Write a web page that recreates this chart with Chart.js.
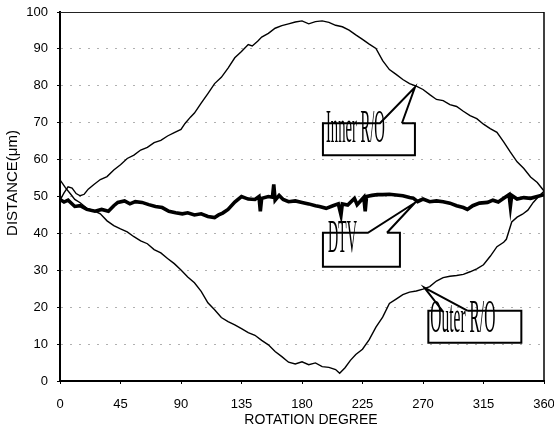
<!DOCTYPE html>
<html>
<head>
<meta charset="utf-8">
<script src="https://cdn.jsdelivr.net/npm/chart.js@4.4.0/dist/chart.umd.min.js"></script>
<style>
  html, body { margin: 0; padding: 0; background: #fff; }
</style>
</head>
<body>
<canvas id="roChart" width="554" height="430"></canvas>
<script>
const degreeTicks = [0, 45, 90, 135, 180, 225, 270, 315, 360];
const distanceTicks = [0, 10, 20, 30, 40, 50, 60, 70, 80, 90, 100];

const innerDeg = [0, 3, 6, 9, 12, 15, 18, 21, 25, 30, 35, 40, 45, 50, 55, 60, 65, 70, 75, 80, 85, 90, 93, 97,
  100, 105, 110, 115, 120, 125, 130, 135, 140, 143, 147, 150, 155, 160, 165, 170, 175, 180, 185, 190, 195,
  200, 205, 210, 215, 220, 225, 230, 235, 240, 245, 250, 255, 260, 265, 270, 275, 280, 285, 290, 295, 300,
  305, 310, 315, 320, 325, 330, 335, 340, 345, 350, 355, 360];
const innerRO = [49, 51, 52.6, 52.3, 50.8, 50.2, 50.6, 52, 53.2, 54.6, 55.4, 57.2, 58.6, 60.3, 61.2, 62.6, 63.3,
  64.6, 65.2, 66.4, 67.3, 68.2, 69.8, 71.5, 72.6, 75.3, 77.9, 80.6, 82.3, 84.8, 87.6, 89.3, 91.2, 90.8, 92.1,
  93.2, 94.2, 95.6, 96.3, 96.8, 97.3, 97.6, 96.8, 97.4, 97.6, 97.2, 96.4, 96, 95.1, 93.8, 92.6, 91.3, 90.1,
  86.8, 84.4, 83.1, 81.7, 80.6, 79.9, 79, 77.6, 76.3, 76, 74.9, 74.4, 73.1, 71.9, 71.1, 69.6, 68.4, 67.4,
  64.8, 62, 59.4, 57.6, 55.3, 53.8, 51.5];

const outerDeg = [0, 4, 8, 11, 15, 20, 25, 30, 35, 40, 45, 50, 55, 60, 65, 70, 75, 80, 85, 90, 95, 100, 105,
  110, 115, 120, 125, 130, 135, 140, 145, 150, 155, 160, 165, 170, 175, 180, 185, 190, 195, 200, 205, 208,
  212, 216, 220, 225, 230, 235, 240, 245, 250, 255, 260, 265, 270, 275, 280, 285, 290, 295, 300, 305, 310,
  315, 320, 325, 330, 332, 336, 340, 344, 348, 352, 356, 360];
const outerRO = [54.5, 52.4, 50.6, 49.2, 48.3, 46.8, 46.2, 45.3, 43.4, 42.1, 41.2, 40.4, 39.1, 38, 37.2, 35.6,
  34.7, 33.2, 31.8, 30.1, 28.2, 26.6, 24.3, 21.2, 19.3, 17.2, 16.1, 15.2, 14.2, 13.1, 12.4, 11, 9.8, 8, 6.6,
  5.1, 4.6, 5.2, 4.4, 4.9, 3.9, 3.7, 3.1, 2.1, 3.6, 5.6, 7.2, 8.6, 11.2, 14.6, 17.3, 21, 22.2, 23.4, 24.1,
  24.4, 24.9, 25.6, 27.1, 28, 28.4, 28.6, 28.9, 29.6, 30.4, 31.5, 33.8, 36.4, 37.6, 38.4, 43.1, 44.4, 45.2,
  46.3, 48.4, 50, 51.4];

const dtvDeg = [0, 3, 6, 11, 15, 20, 26, 31, 36, 40, 43, 48, 52, 56, 61, 66, 71, 76, 81, 86, 91, 95, 100, 105,
  110, 115, 118, 121, 125, 130, 135, 140, 145, 148, 149, 150, 155, 158, 159, 160, 163, 166, 170, 175, 180,
  185, 190, 193, 198, 203, 207, 209, 210, 214, 219, 221, 226, 227, 228, 232, 236, 240, 245, 250, 255, 260,
  263, 266, 270, 275, 280, 285, 290, 295, 300, 303, 307, 312, 318, 322, 326, 330, 334, 335, 336, 340, 345,
  350, 355, 360];
const dtv = [49.2, 48.5, 49, 47.3, 47.5, 46.5, 46, 46.5, 46, 47.5, 48.4, 48.8, 48, 48.6, 48.4, 47.8, 47.3, 47,
  46, 45.6, 45.3, 45.6, 45, 45.3, 44.6, 44.3, 45, 45.5, 46.5, 48.5, 50, 49.3, 49.2, 50, 46, 49.5, 50, 49.8,
  53.3, 49, 50.3, 49.2, 48.6, 48.8, 48.4, 48, 47.5, 47.3, 46.8, 47.5, 48, 45, 48, 47.7, 49.5, 47.8, 49.8, 46,
  50, 50.3, 50.5, 50.5, 50.6, 50.4, 50.2, 49.7, 49.5, 48.6, 49.3, 48.6, 48.8, 48.6, 48.2, 47.5, 47, 46.5,
  47.5, 48.2, 48.4, 49, 48.5, 49.5, 50.5, 47.3, 50.3, 49.3, 49.7, 49.5, 50, 50.5];

// callout tips are in data units, the box around them in pixels
const callouts = [
  { text: 'Inner R/O', tip: [264, 79.6], box: [-92, 36, 0, 68], wedge: [-35, -13], textAt: [-89, 55], textW: 59 },
  { text: 'DTV', tip: [264, 48.3], box: [-92, 30, -15, 64], wedge: [-47, -28], textAt: [-87, 49], textW: 29 },
  { text: 'Outer R/O', tip: [271, 25.3], box: [4, 23, 97, 55], wedge: [18, 43], textAt: [6, 44], textW: 65 }
];

const toPoints = (xs, ys) => xs.map((v, i) => ({ x: v, y: ys[i] }));

const calloutPlugin = {
  id: 'callouts',
  afterDatasetsDraw(chart) {
    const { ctx, scales: { x, y } } = chart;
    callouts.forEach(c => {
      const tx = x.getPixelForValue(c.tip[0]);
      const ty = y.getPixelForValue(c.tip[1]);
      const l = tx + c.box[0], t = ty + c.box[1], r = tx + c.box[2], b = ty + c.box[3];
      ctx.save();
      ctx.fillStyle = '#fff';
      ctx.fillRect(l, t, r - l, b - t);
      ctx.font = '46px "Liberation Serif"';
      ctx.textBaseline = 'alphabetic';
      const w = ctx.measureText(c.text).width;
      ctx.translate(tx + c.textAt[0], ty + c.textAt[1]);
      ctx.scale(c.textW / w, 1);
      ctx.fillStyle = '#000';
      ctx.fillText(c.text, 0, 0);
      ctx.restore();

      ctx.save();
      ctx.strokeStyle = '#000';
      ctx.lineWidth = 2;
      ctx.beginPath();
      ctx.moveTo(tx + c.wedge[1], t);
      ctx.lineTo(r, t);
      ctx.lineTo(r, b);
      ctx.lineTo(l, b);
      ctx.lineTo(l, t);
      ctx.lineTo(tx + c.wedge[0], t);
      ctx.lineTo(tx, ty);
      ctx.lineTo(tx + c.wedge[1], t);
      ctx.stroke();
      ctx.restore();
    });
  },
  afterDraw(chart) {
    const { ctx, chartArea: a } = chart;
    ctx.save();
    ctx.strokeStyle = '#222';
    ctx.lineWidth = 1;
    ctx.beginPath();
    ctx.moveTo(a.left, a.top + 0.5);
    ctx.lineTo(a.right, a.top + 0.5);
    ctx.stroke();
    ctx.lineWidth = 1.5;
    ctx.strokeStyle = '#000';
    ctx.beginPath();
    ctx.moveTo(a.right, a.top);
    ctx.lineTo(a.right, a.bottom);
    ctx.stroke();

    ctx.fillStyle = '#000';
    ctx.textAlign = 'center';
    ctx.textBaseline = 'middle';
    ctx.font = '14px "Liberation Sans"';
    ctx.fillText('ROTATION DEGREE', 311, 420);
    ctx.translate(13, 183);
    ctx.rotate(-Math.PI / 2);
    ctx.font = '15px "Liberation Sans"';
    ctx.fillText('DISTANCE(μm)', 0, 0);
    ctx.restore();
  }
};

const lineStyle = { borderColor: '#000', pointRadius: 0, tension: 0, fill: false };

new Chart(document.getElementById('roChart').getContext('2d'), {
  type: 'line',
  data: {
    datasets: [
      { label: 'Inner R/O', data: toPoints(innerDeg, innerRO), borderWidth: 1.4, ...lineStyle },
      { label: 'Outer R/O', data: toPoints(outerDeg, outerRO), borderWidth: 1.4, ...lineStyle },
      { label: 'DTV', data: toPoints(dtvDeg, dtv), borderWidth: 3.6, ...lineStyle }
    ]
  },
  options: {
    responsive: false,
    animation: false,
    devicePixelRatio: 1,
    layout: { padding: 0 },
    plugins: { legend: { display: false }, tooltip: { enabled: false } },
    scales: {
      x: {
        type: 'linear',
        min: 0,
        max: 360,
        afterBuildTicks: s => { s.ticks = degreeTicks.map(v => ({ value: v })); },
        afterFit: s => { s.height = 49; s.paddingLeft = 0; s.paddingRight = 10; },
        grid: { drawOnChartArea: false, drawTicks: true, tickLength: 3, tickColor: '#000' },
        border: { color: '#000', width: 2 },
        ticks: { color: '#000', padding: 13, maxRotation: 0, font: { family: 'Liberation Sans', size: 13 } }
      },
      y: {
        min: 0,
        max: 100,
        afterBuildTicks: s => { s.ticks = distanceTicks.map(v => ({ value: v })); },
        afterFit: s => { s.width = 60; s.paddingTop = 12; s.paddingBottom = 0; },
        grid: { color: '#b0b0b0', lineWidth: 1, drawTicks: true, tickLength: 3, tickColor: '#000', tickBorderDash: [] },
        border: { color: '#000', width: 2, dash: [2, 7] },
        ticks: { color: '#000', padding: 9, font: { family: 'Liberation Sans', size: 13 } }
      }
    }
  },
  plugins: [calloutPlugin]
});
</script>
</body>
</html>
